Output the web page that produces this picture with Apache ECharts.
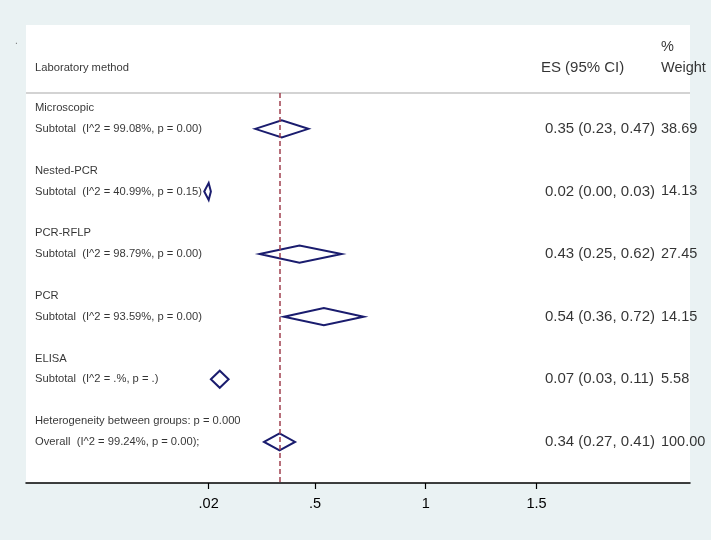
<!DOCTYPE html>
<html>
<head>
<meta charset="utf-8">
<script src="https://cdn.jsdelivr.net/npm/echarts@6/dist/echarts.min.js"></script>
<style>html,body{margin:0;padding:0;background:#eaf2f3;}#c{width:711px;height:540px;}</style>
</head>
<body>
<div id="c"></div>
<script>
// ---- data ----
const groups = ['Microscopic', 'Nested-PCR', 'PCR-RFLP', 'PCR', 'ELISA'];
const subtotalLabels = [
  'Subtotal  (I^2 = 99.08%, p = 0.00)',
  'Subtotal  (I^2 = 40.99%, p = 0.15)',
  'Subtotal  (I^2 = 98.79%, p = 0.00)',
  'Subtotal  (I^2 = 93.59%, p = 0.00)',
  'Subtotal  (I^2 = .%, p = .)'
];
const esValues = [0.35, 0.02, 0.43, 0.54, 0.07];
const ciLow    = [0.23, 0.00, 0.25, 0.36, 0.03];
const ciHigh   = [0.47, 0.03, 0.62, 0.72, 0.11];
const weights  = ['38.69', '14.13', '27.45', '14.15', '5.58'];
const heterogeneityLabel = 'Heterogeneity between groups: p = 0.000';
const overallLabel = 'Overall  (I^2 = 99.24%, p = 0.00);';
const overallES = 0.34, overallLow = 0.27, overallHigh = 0.41, overallWeight = '100.00';
const tickValues = [0.02, 0.5, 1, 1.5];
const tickLabels = ['.02', '.5', '1', '1.5'];
const headerLeft = 'Laboratory method';
const headerES = 'ES (95% CI)';
const headerWeight1 = '%';
const headerWeight2 = 'Weight';

// ---- layout helpers (row units) ----
const X_MIN = -0.8047, X_MAX = 2.193;
const Y_MIN = -2.977, Y_MAX = 18.97;
const xLeftText = -0.764, xES = 1.538, xESHead = 1.52, xWeight = 2.062;
const sepRow = 0.28;
const diamondHalf = 0.41;

const leftItems = [];
const esItems = [];
const wItems = [];
const diamonds = [];
groups.forEach((g, i) => {
  const r = 1 + i * 3;
  leftItems.push({ name: g, value: [xLeftText, r] });
  leftItems.push({ name: subtotalLabels[i], value: [xLeftText, r + 1] });
  esItems.push({ name: esValues[i].toFixed(2) + ' (' + ciLow[i].toFixed(2) + ', ' + ciHigh[i].toFixed(2) + ')', value: [xES, r + 1] });
  wItems.push({ name: weights[i], value: [xWeight, r + 1] });
  diamonds.push([esValues[i], ciLow[i], ciHigh[i], r + 1]);
});
leftItems.push({ name: heterogeneityLabel, value: [xLeftText, 16] });
leftItems.push({ name: overallLabel, value: [xLeftText, 17] });
esItems.push({ name: overallES.toFixed(2) + ' (' + overallLow.toFixed(2) + ', ' + overallHigh.toFixed(2) + ')', value: [xES, 17] });
wItems.push({ name: overallWeight, value: [xWeight, 17] });
diamonds.push([overallES, overallLow, overallHigh, 17]);
leftItems.push({ name: headerLeft, value: [xLeftText, -0.92] });
esItems.push({ name: headerES, value: [xESHead, -0.92] });
wItems.push({ name: headerWeight1, value: [xWeight, -1.9] });
wItems.push({ name: headerWeight2, value: [xWeight, -0.92] });

const FONT = "'Liberation Sans', Arial, sans-serif";
function textSeries(data, size) {
  return {
    type: 'scatter', data: data, symbolSize: 0, silent: true, z: 5,
    label: { show: true, position: 'right', distance: 0, formatter: '{b}',
      fontFamily: FONT, fontSize: size, color: '#000' }
  };
}

const chart = echarts.init(document.getElementById('c'));
chart.setOption({
  backgroundColor: '#eaf2f3',
  animation: false,
  graphic: [{ type: 'text', left: 15, top: 36, style: { text: '.', fill: '#777', font: '10px ' + FONT } }],
  grid: { left: 26, right: 21, top: 25, bottom: 57, show: true, backgroundColor: '#ffffff', borderWidth: 0 },
  xAxis: {
    type: 'value', min: X_MIN, max: X_MAX,
    splitLine: { show: false },
    axisLine: { show: true, onZero: false, lineStyle: { color: '#000', width: 1.5 } },
    axisTick: { show: true, length: 6, customValues: tickValues, lineStyle: { color: '#000', width: 1.2 } },
    axisLabel: { customValues: tickValues, margin: 13, fontFamily: FONT, fontSize: 14.5, color: '#000',
      formatter: v => { const i = tickValues.findIndex(t => Math.abs(t - v) < 1e-9); return i >= 0 ? tickLabels[i] : ''; } }
  },
  yAxis: { type: 'value', inverse: true, min: Y_MIN, max: Y_MAX, show: false },
  series: [
    {
      type: 'line', data: [], silent: true,
      markLine: {
        symbol: 'none', silent: true, label: { show: false },
        data: [
          [{ coord: [X_MIN, sepRow], lineStyle: { color: '#c4c4c4', width: 1.5, type: 'solid' } }, { coord: [X_MAX, sepRow] }],
          [{ coord: [overallES, sepRow], lineStyle: { color: '#a0404f', width: 1.5, type: [5, 3] } }, { coord: [overallES, Y_MAX] }]
        ]
      }
    },
    {
      type: 'custom', data: diamonds, z: 4,
      renderItem: (params, api) => {
        const es = api.value(0), lo = api.value(1), hi = api.value(2), r = api.value(3);
        const pts = [api.coord([lo, r]), api.coord([es, r - diamondHalf]), api.coord([hi, r]), api.coord([es, r + diamondHalf])];
        return { type: 'polygon', shape: { points: pts }, style: { fill: 'none', stroke: '#1a1c6e', lineWidth: 2 } };
      }
    },
    textSeries(leftItems, 11.2),
    textSeries(esItems, 15),
    textSeries(wItems, 14.5)
  ]
});
</script>
</body>
</html>
